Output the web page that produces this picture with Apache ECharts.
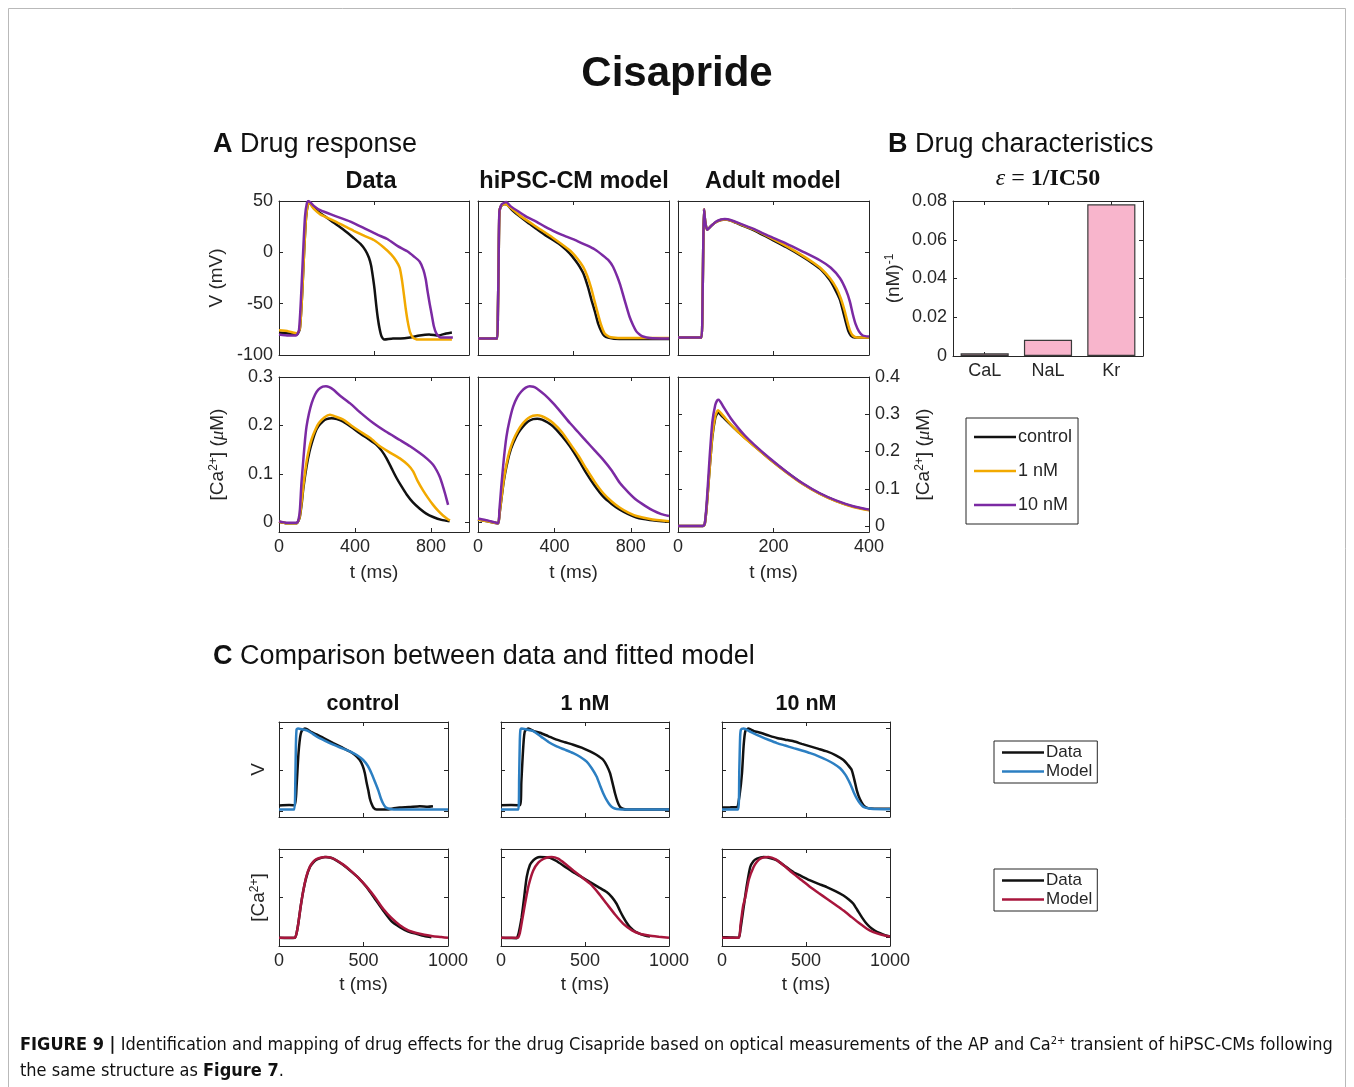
<!DOCTYPE html>
<html lang="en">
<head>
<meta charset="UTF-8">
<title>Cisapride</title>
<script src="https://cdn.jsdelivr.net/npm/echarts@6/dist/echarts.min.js"></script>
<style>html,body{margin:0;padding:0;background:#fff;}</style>
</head>
<body>
<div id="main" style="width:1354px;height:1087px;"></div>
<script>
// ---- panel A : action potentials [t (ms), V (mV)] ----
var aDataV_ctrl = [[0,-78],[50,-79],[95,-80],[110,-74],[122,-40],[132,0],[142,33],[152,47],[158,48],[185,43],[217,38],[250,34],[287,29],[340,22],[393,14],[430,8],[455,2],[473,-5],[485,-13],[495,-25],[503,-36],[512,-52],[520,-64],[530,-75],[540,-82],[555,-85],[600,-84],[640,-84],[690,-83],[740,-81],[790,-80],[840,-81],[880,-79],[910,-78]];
var aDataV_1nM = [[0,-76],[50,-77],[95,-79],[110,-74],[122,-40],[132,0],[142,33],[152,47],[158,48],[185,42],[217,37],[287,31],[340,26],[393,21],[450,16],[499,12],[550,5],[590,-2],[615,-8],[635,-15],[648,-28],[658,-42],[667,-55],[678,-68],[690,-78],[705,-83],[730,-85],[800,-85],[910,-85]];
var aDataV_10nM = [[0,-80],[50,-81],[90,-81],[105,-76],[117,-40],[127,0],[137,35],[147,48],[155,50],[185,45],[217,41],[287,36],[376,30],[464,22],[520,17],[570,13],[625,6],[675,1],[710,-4],[740,-9],[760,-17],[772,-26],[782,-38],[793,-50],[805,-62],[815,-72],[828,-79],[850,-83],[900,-83],[915,-83]];

var aHipV_ctrl = [[0,-84],[100,-84],[104,-60],[108,-10],[112,38],[120,45],[140,47],[155,46],[180,41],[218,35],[260,29],[305,23],[350,17],[393,12],[440,6],[480,-1],[510,-8],[532,-14],[555,-22],[576,-34],[595,-47],[611,-57],[630,-70],[646,-77],[660,-81],[680,-83],[740,-84.5],[1000,-84.5]];
var aHipV_1nM = [[0,-84],[100,-84],[104,-60],[108,-10],[112,38],[120,45],[140,47],[155,46],[180,42],[218,36],[305,25],[393,14],[480,2],[520,-6],[550,-14],[572,-23],[593,-35],[611,-48],[628,-60],[645,-71],[663,-79],[685,-82],[707,-83],[760,-83.5],[1000,-83.5]];
var aHipV_10nM = [[0,-84],[100,-84],[104,-60],[108,-10],[112,40],[125,47],[148,49],[170,45],[218,39],[260,34],[305,30],[350,25],[393,21],[440,17],[480,14],[520,11],[567,7],[610,3],[654,-3],[685,-8],[707,-14],[730,-24],[745,-32],[759,-41],[776,-52],[794,-63],[812,-71],[829,-77],[846,-80],[864,-82],[900,-83.5],[1000,-84]];

var aAdultV_ctrl = [[0,-83],[49,-83],[51,-60],[53,10],[54.5,42],[57,30],[61,22],[70,26],[80,29.5],[90,31.5],[98,32],[110,31],[130,27],[157,22],[190,14],[227,5],[260,-4],[283,-11],[300,-17],[318,-27],[330,-37],[339,-46],[346,-58],[352,-69],[357,-77],[362,-81],[370,-83],[400,-83]];
var aAdultV_1nM = [[0,-83],[49,-83],[51,-60],[53,10],[54.5,42],[57,30],[61,22],[70,26],[80,29.5],[90,31.5],[98,32],[110,31],[130,27.5],[157,22.5],[190,15],[227,6],[260,-3],[283,-10],[300,-16],[318,-25],[332,-35],[341,-45],[349,-57],[355,-68],[360,-76],[366,-81],[375,-83],[400,-83]];
var aAdultV_10nM = [[0,-83],[49,-83],[51,-60],[53,10],[54.5,42],[57,30],[61,22],[70,26],[80,30],[90,32],[98,32.5],[110,31.5],[130,28],[157,23],[190,16],[227,8.5],[260,1],[297,-7.7],[320,-15],[339,-25],[352,-37],[360,-48],[366,-60],[372,-70],[379,-77],[387,-81],[400,-82]];

// ---- panel A : calcium transients [t (ms), Ca (uM)] ----
var aDataCa_ctrl = [[0,0.001],[40,-0.002],[93,-0.002],[103,0.004],[110,0.012],[120,0.04],[128,0.07],[145,0.115],[160,0.145],[172,0.163],[190,0.185],[207,0.198],[230,0.208],[250,0.213],[277,0.215],[305,0.213],[338,0.208],[380,0.197],[425,0.184],[470,0.172],[513,0.16],[540,0.148],[566,0.132],[592,0.112],[618,0.092],[645,0.074],[671,0.058],[705,0.041],[741,0.028],[775,0.018],[811,0.011],[855,0.005],[898,0.002]];
var aDataCa_1nM = [[0,0.001],[40,-0.002],[93,-0.002],[103,0.004],[110,0.014],[120,0.045],[128,0.075],[145,0.125],[160,0.155],[172,0.172],[190,0.19],[210,0.205],[240,0.217],[268,0.222],[300,0.218],[338,0.212],[380,0.2],[425,0.188],[480,0.174],[531,0.157],[580,0.145],[636,0.132],[680,0.118],[706,0.105],[730,0.085],[758,0.066],[785,0.05],[811,0.036],[837,0.024],[863,0.014],[890,0.006],[900,0.004]];
var aDataCa_10nM = [[0,0.002],[40,-0.001],[93,-0.001],[103,0.006],[110,0.026],[118,0.08],[128,0.129],[137,0.17],[145,0.198],[158,0.225],[172,0.246],[190,0.264],[207,0.274],[230,0.28],[247,0.281],[265,0.279],[285,0.274],[320,0.262],[373,0.246],[430,0.226],[496,0.205],[560,0.188],[636,0.17],[690,0.157],[741,0.143],[780,0.131],[811,0.119],[830,0.107],[846,0.094],[860,0.078],[875,0.058],[890,0.036]];

var aHipCa_ctrl = [[0,0.006],[50,0.002],[105,-0.002],[112,0.015],[122,0.046],[135,0.085],[149,0.115],[165,0.142],[184,0.163],[210,0.184],[236,0.198],[262,0.208],[288,0.213],[310,0.214],[335,0.212],[365,0.206],[393,0.198],[440,0.178],[481,0.157],[525,0.13],[568,0.101],[612,0.075],[656,0.053],[700,0.038],[743,0.026],[787,0.017],[830,0.01],[900,0.005],[1000,0.001]];
var aHipCa_1nM = [[0,0.006],[50,0.002],[105,-0.002],[112,0.016],[122,0.048],[135,0.088],[149,0.12],[165,0.147],[184,0.169],[210,0.19],[236,0.205],[262,0.215],[288,0.22],[310,0.221],[335,0.219],[365,0.213],[393,0.205],[440,0.186],[481,0.163],[525,0.138],[568,0.11],[612,0.083],[656,0.06],[700,0.043],[743,0.03],[787,0.02],[830,0.013],[900,0.007],[1000,0.002]];
var aHipCa_10nM = [[0,0.008],[50,0.004],[105,-0.002],[112,0.025],[122,0.074],[135,0.13],[149,0.177],[165,0.21],[184,0.239],[205,0.258],[227,0.27],[250,0.278],[271,0.281],[290,0.28],[306,0.277],[350,0.263],[393,0.246],[437,0.226],[481,0.205],[525,0.186],[568,0.167],[612,0.148],[656,0.129],[700,0.107],[743,0.081],[787,0.062],[830,0.046],[875,0.034],[918,0.024],[960,0.017],[1000,0.013]];

var aAdultCa_ctrl = [[0,0],[52,0],[56,0.005],[60,0.05],[66,0.15],[72,0.24],[78,0.29],[82,0.302],[84,0.305],[90,0.298],[100,0.285],[120,0.26],[140,0.237],[160,0.215],[192,0.18],[227,0.145],[262,0.113],[297,0.087],[332,0.067],[367,0.052],[400,0.043]];
var aAdultCa_1nM = [[0,0],[52,0],[56,0.005],[60,0.05],[66,0.15],[72,0.245],[78,0.295],[82,0.308],[84,0.311],[90,0.303],[100,0.288],[120,0.26],[140,0.236],[160,0.214],[192,0.179],[227,0.144],[262,0.112],[297,0.086],[332,0.066],[367,0.051],[400,0.042]];
var aAdultCa_10nM = [[0,0],[52,0],[56,0.006],[60,0.06],[66,0.18],[72,0.28],[78,0.325],[82,0.337],[85,0.339],[95,0.32],[110,0.29],[125,0.265],[140,0.243],[160,0.218],[192,0.182],[227,0.146],[262,0.114],[297,0.088],[332,0.068],[367,0.053],[400,0.044]];

// ---- panel B : 1/IC50 ----
var channels = ['CaL', 'NaL', 'Kr'];
var invIC50 = [0.0014, 0.0084, 0.0783];

// ---- panel C : normalised data vs fitted model ----
var cCtrlV_data = [[0,0.07],[60,0.075],[94,0.073],[104,0.3],[114,0.66],[124,0.88],[134,0.97],[154,1],[190,0.96],[222,0.93],[270,0.88],[321,0.825],[370,0.775],[419,0.724],[450,0.68],[478,0.62],[495,0.55],[508,0.46],[518,0.35],[528,0.256],[538,0.15],[547,0.093],[560,0.04],[577,0.02],[636,0.02],[680,0.035],[715,0.045],[770,0.05],[833,0.061],[880,0.055],[911,0.061]];
var cCtrlV_model = [[0,0.02],[90,0.02],[96,0.3],[100,0.8],[104,0.99],[112,1],[140,0.99],[163,0.98],[190,0.95],[222,0.906],[270,0.855],[321,0.805],[370,0.765],[419,0.724],[460,0.68],[498,0.62],[525,0.55],[547,0.46],[567,0.36],[587,0.256],[602,0.16],[616,0.093],[630,0.05],[646,0.033],[680,0.022],[1000,0.02]];
var c1V_data = [[0,0.073],[60,0.075],[113,0.073],[121,0.35],[129,0.66],[136,0.88],[143,0.97],[163,1],[195,0.97],[232,0.95],[280,0.91],[331,0.866],[380,0.835],[430,0.805],[480,0.77],[530,0.724],[570,0.68],[609,0.62],[630,0.55],[649,0.46],[664,0.34],[679,0.215],[693,0.12],[708,0.053],[725,0.03],[748,0.02],[800,0.02],[1000,0.02]];
var c1V_model = [[0,0.02],[103,0.02],[108,0.4],[112,0.85],[116,0.99],[123,1],[150,0.99],[192,0.97],[240,0.9],[285,0.835],[331,0.785],[380,0.745],[430,0.703],[470,0.66],[510,0.6],[540,0.52],[569,0.42],[590,0.31],[609,0.215],[630,0.13],[649,0.073],[668,0.04],[688,0.028],[750,0.02],[1000,0.02]];
var c10V_data = [[0,0.045],[50,0.047],[89,0.05],[105,0.2],[119,0.46],[129,0.8],[139,0.97],[158,1],[190,0.97],[228,0.95],[280,0.915],[327,0.886],[376,0.866],[426,0.846],[475,0.815],[525,0.785],[575,0.755],[624,0.724],[675,0.68],[723,0.62],[750,0.56],[772,0.5],[788,0.38],[802,0.256],[820,0.15],[842,0.073],[860,0.045],[881,0.033],[950,0.03],[1000,0.03]];
var c10V_model = [[0,0.02],[96,0.02],[103,0.5],[108,0.9],[113,0.99],[129,1],[170,0.96],[228,0.906],[280,0.862],[327,0.825],[376,0.795],[426,0.764],[475,0.735],[525,0.703],[575,0.665],[624,0.62],[665,0.575],[703,0.52],[735,0.44],[762,0.337],[782,0.24],[802,0.155],[822,0.095],[842,0.053],[870,0.035],[901,0.028],[1000,0.025]];

var cCtrlCa_data = [[0,-0.008],[60,-0.01],[94,-0.008],[104,0.05],[114,0.167],[128,0.38],[144,0.583],[162,0.75],[183,0.875],[202,0.93],[222,0.967],[250,0.99],[272,1],[300,0.995],[321,0.98],[370,0.915],[419,0.833],[470,0.74],[518,0.625],[567,0.48],[616,0.333],[665,0.2],[715,0.125],[765,0.07],[813,0.042],[860,0.015],[902,0]];
var cCtrlCa_model = [[0,-0.008],[94,-0.008],[104,0.05],[114,0.167],[128,0.38],[144,0.583],[162,0.76],[183,0.88],[202,0.94],[222,0.975],[250,0.995],[280,1],[310,0.99],[340,0.96],[380,0.905],[419,0.84],[470,0.74],[518,0.63],[567,0.5],[616,0.354],[665,0.24],[715,0.15],[765,0.085],[813,0.052],[860,0.03],[910,0.012],[960,0.002],[1000,-0.008]];
var c1Ca_data = [[0,-0.008],[50,-0.01],[93,-0.012],[105,0.05],[113,0.13],[123,0.25],[138,0.5],[153,0.75],[172,0.9],[192,0.958],[212,0.99],[232,1],[262,0.998],[292,0.99],[330,0.95],[380,0.88],[430,0.81],[480,0.75],[530,0.6875],[580,0.625],[629,0.5625],[660,0.5],[688,0.417],[708,0.33],[728,0.25],[748,0.18],[768,0.125],[798,0.07],[827,0.042],[857,0.02],[887,0.008]];
var c1Ca_model = [[0,-0.008],[100,-0.008],[112,0.05],[125,0.2],[143,0.417],[165,0.65],[192,0.833],[222,0.93],[252,0.975],[280,0.997],[302,1],[340,0.98],[380,0.92],[430,0.833],[480,0.75],[530,0.667],[580,0.55],[629,0.417],[680,0.28],[728,0.167],[780,0.085],[827,0.042],[880,0.02],[940,0.005],[1000,-0.008]];
var c10Ca_data = [[0,0],[50,-0.004],[99,-0.008],[110,0.1],[129,0.375],[148,0.65],[168,0.875],[188,0.95],[208,0.98],[248,1],[290,0.985],[327,0.958],[376,0.885],[426,0.81],[475,0.76],[525,0.708],[575,0.665],[624,0.625],[675,0.575],[723,0.52],[755,0.47],[782,0.417],[808,0.33],[832,0.25],[856,0.18],[881,0.125],[911,0.08],[941,0.05],[970,0.025],[1000,0.008]];
var c10Ca_model = [[0,-0.008],[99,-0.008],[110,0.15],[125,0.38],[139,0.5],[160,0.72],[188,0.875],[208,0.94],[228,0.98],[255,0.998],[277,1],[320,0.97],[370,0.89],[426,0.79],[475,0.71],[525,0.625],[575,0.55],[624,0.48],[675,0.405],[723,0.333],[772,0.25],[822,0.167],[862,0.105],[901,0.0625],[950,0.03],[1000,0.008]];

// tick values
var ticksV = [-100, -50, 0, 50];
var ticksCa = [0, 0.1, 0.2, 0.3];
var ticksCaAdult = [0, 0.1, 0.2, 0.3, 0.4];
var ticksT = [0, 400, 800];
var ticksTV = [0, 500, 1000];
var ticksTAdult = [0, 200, 400];
var ticksNorm = [0, 0.5, 1];
var ticksBar = [0, 0.02, 0.04, 0.06, 0.08];

var FONT = '"Liberation Sans", Arial, Helvetica, sans-serif';
var INK = '#262626';
var COL = {black: '#111111', orange: '#f2a900', purple: '#7b2aa3', blue: '#2c7fc2', red: '#a8163c'};
var supRich = {
    sup: {fontSize: 12, fontFamily: FONT, color: INK, verticalAlign: 'top', lineHeight: 12, padding: [0, 0, 9, 0]},
    mu: {fontSize: 19, fontFamily: '"Liberation Serif", serif', fontStyle: 'italic', color: INK}
};

var grid = [], xAxis = [], yAxis = [], series = [];

function makeAxis(gi, pos, s, main) {
    return {
        type: 'value', gridIndex: gi, position: pos, min: s.min, max: s.max,
        axisLine: {show: true, onZero: false, lineStyle: {color: INK, width: 1}},
        axisTick: {show: true, inside: true, length: 4, customValues: s.ticks, lineStyle: {color: INK}},
        axisLabel: {
            show: main && !!s.labels, customValues: s.ticks, color: INK, fontFamily: FONT, fontSize: 18, margin: 6,
            formatter: function (v) { return String(v); }
        },
        splitLine: {show: false},
        name: main && s.name ? s.name : '',
        nameLocation: 'middle', nameGap: s.gap || 30, nameRotate: s.rotate,
        nameTextStyle: {color: INK, fontFamily: FONT, fontSize: s.nameSize || 19, rich: supRich}
    };
}

function panel(box, xs, ys) {
    var gi = grid.length;
    grid.push({left: box[0], top: box[1], width: box[2], height: box[3]});
    var p = {x: xAxis.length, y: yAxis.length};
    xAxis.push(makeAxis(gi, 'bottom', xs, true));
    xAxis.push(makeAxis(gi, 'top', xs, false));
    var side = ys.side || 'left';
    yAxis.push(makeAxis(gi, side, ys, true));
    yAxis.push(makeAxis(gi, side === 'left' ? 'right' : 'left', ys, false));
    return p;
}

function line(p, name, data, color) {
    series.push({
        type: 'line', name: name, xAxisIndex: p.x, yAxisIndex: p.y, data: data,
        showSymbol: false, symbol: 'none', smooth: 0.2, color: color,
        lineStyle: {width: 2.5, color: color}, silent: true
    });
}

// ---- build panel A ----
var vY = {min: -100, max: 50, ticks: ticksV};
var caY = {min: -0.02, max: 0.3, ticks: ticksCa};
var tName = {name: 't (ms)', gap: 31};

var pA1 = panel([279, 201, 190, 154], {min: 0, max: 1000, ticks: ticksTV}, Object.assign({labels: true, name: 'V (mV)', gap: 53, rotate: 90}, vY));
var pA2 = panel([478, 201, 191, 154], {min: 0, max: 1000, ticks: ticksTV}, vY);
var pA3 = panel([678, 201, 191, 154], {min: 0, max: 400, ticks: ticksTAdult}, vY);
var pA4 = panel([279, 377, 190, 155], Object.assign({min: 0, max: 1000, ticks: ticksT, labels: true}, tName), Object.assign({labels: true, name: '[Ca{sup|2+}] ({mu|μ}M)', gap: 52, rotate: 90}, caY));
var pA5 = panel([478, 377, 191, 155], Object.assign({min: 0, max: 1000, ticks: ticksT, labels: true}, tName), caY);
var pA6 = panel([678, 377, 191, 155], Object.assign({min: 0, max: 400, ticks: ticksTAdult, labels: true}, tName), {min: -0.016, max: 0.4, ticks: ticksCaAdult, labels: true, side: 'right', name: '[Ca{sup|2+}] ({mu|μ}M)', gap: 45, rotate: 90});

var aSets = [
    [pA1, aDataV_ctrl, aDataV_1nM, aDataV_10nM],
    [pA2, aHipV_ctrl, aHipV_1nM, aHipV_10nM],
    [pA3, aAdultV_ctrl, aAdultV_1nM, aAdultV_10nM],
    [pA4, aDataCa_ctrl, aDataCa_1nM, aDataCa_10nM],
    [pA5, aHipCa_ctrl, aHipCa_1nM, aHipCa_10nM],
    [pA6, aAdultCa_ctrl, aAdultCa_1nM, aAdultCa_10nM]
];
aSets.forEach(function (s) {
    line(s[0], 'control', s[1], COL.black);
    line(s[0], '1 nM', s[2], COL.orange);
    line(s[0], '10 nM', s[3], COL.purple);
});

// ---- panel B (bar) ----
var gB = grid.length;
grid.push({left: 953, top: 201, width: 190, height: 155});
var catAxis = function (pos, main) {
    return {
        type: 'category', gridIndex: gB, position: pos, data: channels,
        axisLine: {show: true, onZero: false, lineStyle: {color: INK}},
        axisTick: {show: true, inside: true, length: 4, alignWithLabel: true, lineStyle: {color: INK}},
        axisLabel: {show: main, color: INK, fontFamily: FONT, fontSize: 18, margin: 6}
    };
};
var bX = xAxis.length;
xAxis.push(catAxis('bottom', true), catAxis('top', false));
var bY = yAxis.length;
var bYcfg = {min: 0, max: 0.08, ticks: ticksBar};
yAxis.push(makeAxis(gB, 'left', Object.assign({labels: true, name: '(nM){sup|-1}', gap: 50, rotate: 90}, bYcfg), true));
yAxis.push(makeAxis(gB, 'right', bYcfg, false));
series.push({
    type: 'bar', xAxisIndex: bX, yAxisIndex: bY, data: invIC50, barWidth: '76%', silent: true,
    itemStyle: {color: '#f8b5cc', borderColor: '#3a3a3a', borderWidth: 1.2}
});

// ---- panel C ----
var cX = {min: 0, max: 1000, ticks: ticksTV};
var cXlab = {min: 0, max: 1000, ticks: ticksTV, labels: true, name: 't (ms)', gap: 29};
var cVY = {min: -0.07, max: 1.08, ticks: ticksNorm};
var cCaY = {min: -0.11, max: 1.1, ticks: ticksNorm};
var pC1 = panel([279, 722, 169, 95], cX, Object.assign({name: 'V', gap: 11, rotate: 90}, cVY));
var pC2 = panel([501, 722, 168, 95], cX, cVY);
var pC3 = panel([722, 722, 168, 95], cX, cVY);
var pC4 = panel([279, 849, 169, 97], cXlab, Object.assign({name: '[Ca{sup|2+}]', gap: 11, rotate: 90}, cCaY));
var pC5 = panel([501, 849, 168, 97], cXlab, cCaY);
var pC6 = panel([722, 849, 168, 97], cXlab, cCaY);

[[pC1, cCtrlV_data, cCtrlV_model], [pC2, c1V_data, c1V_model], [pC3, c10V_data, c10V_model]].forEach(function (s) {
    line(s[0], 'Data', s[1], COL.black);
    line(s[0], 'Model', s[2], COL.blue);
});
[[pC4, cCtrlCa_data, cCtrlCa_model], [pC5, c1Ca_data, c1Ca_model], [pC6, c10Ca_data, c10Ca_model]].forEach(function (s) {
    line(s[0], 'Data', s[1], COL.black);
    line(s[0], 'Model', s[2], COL.red);
});

// ---- legends ----
var legBase = {
    orient: 'vertical', icon: 'rect', selectedMode: false,
    backgroundColor: '#fff', borderColor: INK, borderWidth: 1
};
var legend = [
    Object.assign({}, legBase, {
        left: 966, top: 418, padding: [10, 6, 10, 8], itemWidth: 42, itemHeight: 2.5, itemGap: 16,
        data: ['control', '1 nM', '10 nM'],
        textStyle: {color: INK, fontFamily: FONT, fontSize: 18, padding: [0, 0, 0, -3]}
    }),
    Object.assign({}, legBase, {
        left: 994, top: 741, padding: [3, 5, 3, 8], itemWidth: 42, itemHeight: 2.5, itemGap: 2,
        data: ['Data', {name: 'Model', itemStyle: {color: COL.blue}}],
        textStyle: {color: INK, fontFamily: FONT, fontSize: 17, padding: [0, 0, 0, -3]}
    }),
    Object.assign({}, legBase, {
        left: 994, top: 869, padding: [3, 5, 3, 8], itemWidth: 42, itemHeight: 2.5, itemGap: 2,
        data: ['Data', {name: 'Model', itemStyle: {color: COL.red}}],
        textStyle: {color: INK, fontFamily: FONT, fontSize: 17, padding: [0, 0, 0, -3]}
    })
];

// ---- text ----
function txt(x, y, text, size, weight, align, rich, family) {
    return {
        type: 'text', x: x, y: y, silent: true,
        style: {
            text: text, fill: '#111', fontFamily: family || FONT, fontSize: size, fontWeight: weight || 'normal',
            textAlign: align || 'left', textVerticalAlign: 'middle', rich: rich
        }
    };
}
var CAPFONT = '"Liberation Sans Narrow", "DejaVu Sans Condensed", sans-serif';
var capRich = {
    b: {fontWeight: 'bold', fontSize: 18, fontFamily: CAPFONT, fill: '#111'},
    s: {fontSize: 11, verticalAlign: 'top', lineHeight: 10, fontFamily: CAPFONT, fill: '#111'}
};
var headRich = {b: {fontWeight: 'bold', fontSize: 27, fontFamily: FONT, fill: '#111'}};
var serifRich = {
    e: {fontStyle: 'italic', fontSize: 24, fontFamily: '"Liberation Serif", serif', fill: '#111'},
    b: {fontWeight: 'bold', fontSize: 24, fontFamily: '"Liberation Serif", serif', fill: '#111'}
};
var graphic = [
    {type: 'rect', shape: {x: 8.5, y: 8.5, width: 1337, height: 1100}, style: {fill: 'none', stroke: '#b9b9b9', lineWidth: 1}, silent: true, z: -1},
    txt(677, 74, 'Cisapride', 42, 'bold', 'center'),
    txt(213, 145, '{b|A} Drug response', 27, 'normal', 'left', headRich),
    txt(888, 145, '{b|B} Drug characteristics', 27, 'normal', 'left', headRich),
    txt(213, 657, '{b|C} Comparison between data and fitted model', 27, 'normal', 'left', headRich),
    txt(371, 182, 'Data', 23.5, 'bold', 'center'),
    txt(574, 182, 'hiPSC-CM model', 23.5, 'bold', 'center'),
    txt(773, 182, 'Adult model', 23.5, 'bold', 'center'),
    txt(1048, 179, '{e|ε} = {b|1/IC50}', 24, 'normal', 'center', serifRich, '"Liberation Serif", serif'),
    txt(363, 704, 'control', 21.5, 'bold', 'center'),
    txt(585, 704, '1 nM', 21.5, 'bold', 'center'),
    txt(806, 704, '10 nM', 21.5, 'bold', 'center'),
    txt(20, 1045, '{b|FIGURE 9 |} Identification and mapping of drug effects for the drug Cisapride based on optical measurements of the AP and Ca{s|2+} transient of hiPSC-CMs following', 18, 'normal', 'left', capRich, CAPFONT),
    txt(20, 1071, 'the same structure as {b|Figure 7}.', 18, 'normal', 'left', capRich, CAPFONT)
];

var myChart = echarts.init(document.getElementById('main'));
myChart.setOption({
    animation: false,
    backgroundColor: '#fff',
    grid: grid,
    xAxis: xAxis,
    yAxis: yAxis,
    legend: legend,
    series: series,
    graphic: graphic
});
</script>
</body>
</html>
